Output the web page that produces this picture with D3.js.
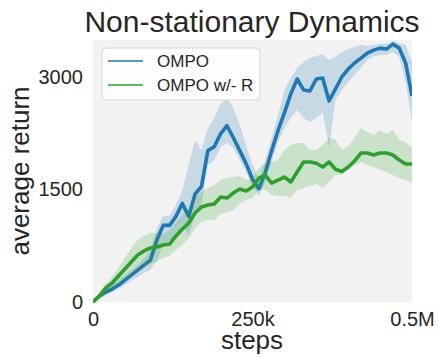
<!DOCTYPE html>
<html>
<head>
<meta charset="utf-8">
<script src="https://cdn.jsdelivr.net/npm/d3@7.9.0/dist/d3.min.js"></script>
<style>
  body { margin: 0; background: #fff; }
  text { font-family: "Liberation Sans", Arial, sans-serif; fill: #262626; }
</style>
</head>
<body>
<svg id="chart" width="438" height="358"></svg>
<script>
// training steps, every 10k up to 0.5M
const steps = d3.range(0, 510000, 10000);

const ompo = [0, 80, 133, 173, 226, 292, 358, 425, 491, 558, 823, 1022, 1022, 1141, 1314, 1141, 1440, 1540, 2018, 2070,
  2243, 2350, 2190, 2018, 1845, 1633, 1510, 1726, 2018, 2283, 2522, 2774, 2973, 2827, 2814, 2973, 2987, 2681, 2840, 3000,
  3106, 3186, 3252, 3319, 3358, 3385, 3372, 3438, 3385, 3186, 2748];
const ompoHi = [0, 107, 173, 227, 293, 360, 427, 493, 587, 693, 987, 1146, 1146, 1293, 1493, 1826, 2160, 2026, 2319, 2453,
  2640, 2719, 2586, 2359, 2093, 1826, 1653, 1893, 2186, 2493, 2826, 2986, 3119, 3199, 3253, 3279, 3306, 3226, 3266, 3333,
  3373, 3399, 3426, 3413, 3426, 3439, 3439, 3479, 3453, 3426, 3199];
const ompoLo = [0, 40, 93, 133, 173, 227, 280, 333, 387, 427, 560, 760, 826, 826, 1026, 893, 1160, 1293, 1826, 1893,
  2066, 2120, 2053, 1893, 1733, 1546, 1413, 1600, 1866, 2133, 2319, 2453, 2559, 2453, 2399, 2453, 2533, 2053, 2693, 2826,
  2933, 3026, 3119, 3226, 3279, 3293, 3293, 3333, 3266, 2933, 2399];

const ompoNoR = [0, 80, 187, 253, 347, 440, 533, 627, 680, 720, 733, 760, 773, 880, 973, 1053, 1186, 1266, 1293, 1306,
  1400, 1386, 1453, 1506, 1480, 1533, 1653, 1693, 1586, 1626, 1666, 1600, 1733, 1866, 1866, 1850, 1800, 1866, 1770, 1740,
  1800, 1880, 1986, 1986, 1960, 1986, 1986, 1960, 1893, 1840, 1840];
const ompoNoRHi = [0, 120, 240, 333, 453, 587, 720, 826, 880, 920, 920, 906, 960, 1066, 1160, 1253, 1386, 1466, 1520, 1560,
  1626, 1653, 1666, 1680, 1626, 1653, 1786, 1853, 1866, 1893, 2026, 2093, 2119, 2119, 2026, 2026, 2093, 2186, 2160, 2026,
  2080, 2186, 2319, 2266, 2226, 2293, 2240, 2293, 2160, 2133, 2053];
const ompoNoRLo = [0, 40, 133, 173, 240, 293, 360, 427, 467, 507, 533, 587, 613, 693, 760, 853, 986, 1066, 1093, 1093,
  1173, 1200, 1226, 1306, 1360, 1386, 1493, 1493, 1426, 1413, 1413, 1386, 1493, 1520, 1546, 1573, 1520, 1600, 1693, 1700,
  1760, 1826, 1866, 1826, 1800, 1760, 1733, 1693, 1653, 1626, 1586];

const xTicks = [0, 250000, 500000];
const xTickLabels = ["0", "250k", "0.5M"];
const yTicks = [0, 1500, 3000];

const series = [
  { name: "OMPO", color: "#1f77b4", mean: ompo, hi: ompoHi, lo: ompoLo },
  { name: "OMPO w/- R", color: "#2ca02c", mean: ompoNoR, hi: ompoNoRHi, lo: ompoNoRLo }
];

const plotL = 93, plotR = 412, plotT = 40, plotB = 302;
const svg = d3.select("#chart");

const x = d3.scaleLinear().domain([0, 500000]).range([plotL, plotR]);
const y = d3.scaleLinear().domain([0, 3493]).range([plotB, plotT]);

svg.append("rect")
  .attr("x", plotL).attr("y", plotT)
  .attr("width", plotR - plotL).attr("height", plotB - plotT)
  .attr("fill", "#f2f2f2");

svg.append("clipPath").attr("id", "plot-clip")
  .append("rect")
  .attr("x", plotL).attr("y", plotT - 2)
  .attr("width", plotR - plotL).attr("height", plotB - plotT + 4);

const plot = svg.append("g").attr("clip-path", "url(#plot-clip)");

let area = d3.area()
  .x((d, i) => x(steps[i]));
let line = d3.line()
  .x((d, i) => x(steps[i]))
  .y(d => y(d));

series.forEach(s => {
  plot.append("path")
    .attr("d", area.y0((d, i) => y(s.lo[i])).y1(d => y(d))(s.hi))
    .attr("fill", s.color)
    .attr("fill-opacity", 0.2);
  plot.append("path")
    .attr("d", line(s.mean))
    .attr("fill", "none")
    .attr("stroke", s.color)
    .attr("stroke-width", 3.6)
    .attr("stroke-linejoin", "round");
});

// axes: labels only, no spines or tick marks
const xAxis = svg.append("g")
  .attr("transform", `translate(0,${plotB})`)
  .call(d3.axisBottom(x).tickValues(xTicks).tickSize(0).tickPadding(10)
    .tickFormat((d, i) => xTickLabels[i]));
const yAxis = svg.append("g")
  .attr("transform", `translate(${plotL},0)`)
  .call(d3.axisLeft(y).tickValues(yTicks).tickSize(0).tickPadding(10)
    .tickFormat(d3.format("d")));

[xAxis, yAxis].forEach(a => {
  a.select(".domain").remove();
  a.selectAll("text")
    .attr("font-family", "Liberation Sans, Arial, sans-serif")
    .attr("font-size", 20)
    .attr("fill", "#262626");
});

svg.append("text")
  .attr("x", 252).attr("y", 32)
  .attr("text-anchor", "middle")
  .attr("font-size", 30)
  .text("Non-stationary Dynamics");

svg.append("text")
  .attr("x", 252).attr("y", 349)
  .attr("text-anchor", "middle")
  .attr("font-size", 26)
  .text("steps");

svg.append("text")
  .attr("transform", "translate(29,171) rotate(-90)")
  .attr("text-anchor", "middle")
  .attr("font-size", 26)
  .text("average return");

// legend
const legend = svg.append("g");
legend.append("rect")
  .attr("x", 102).attr("y", 48)
  .attr("width", 158).attr("height", 52)
  .attr("rx", 4)
  .attr("fill", "#fff").attr("fill-opacity", 0.8)
  .attr("stroke", "#d6d6d6");

series.forEach((s, i) => {
  let ly = 61 + i * 24;
  legend.append("line")
    .attr("x1", 108).attr("x2", 143)
    .attr("y1", ly).attr("y2", ly)
    .attr("stroke", s.color).attr("stroke-width", 1.6);
  legend.append("text")
    .attr("x", 157).attr("y", ly + 6)
    .attr("font-size", 17)
    .text(s.name);
});
</script>
</body>
</html>
